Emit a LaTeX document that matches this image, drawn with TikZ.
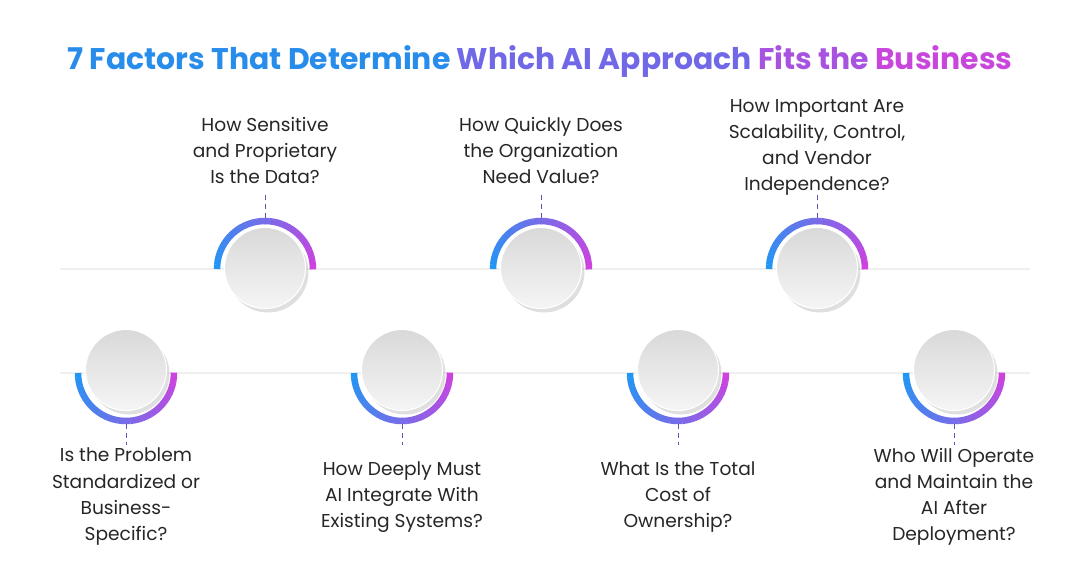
\documentclass[tikz,border=0pt]{standalone}
\usepackage{fontspec}
\setmainfont{Poppins}
\usetikzlibrary{shadows}
\definecolor{cA}{RGB}{33,150,243}
\definecolor{cB}{RGB}{206,66,222}
\definecolor{tA}{RGB}{40,140,235}
\definecolor{tB}{RGB}{120,100,230}
\definecolor{tC}{RGB}{200,70,220}
\begin{document}
\begin{tikzpicture}[x=0.02cm,y=-0.02cm,
  lab/.style={align=center,font=\fontsize{10.6}{14.8}\selectfont,text=black!85},
  disc/.style={circle,minimum size=1.62cm,inner sep=0pt,left color=gray!30,right color=gray!8,shading angle=0,draw=white,line width=0.6pt,drop shadow={shadow xshift=0.06cm,shadow yshift=-0.08cm,opacity=0.25}},
  guide/.style={gray!12,line width=1.2pt},
  vdash/.style={densely dashed,draw=tB!80!black,line width=0.5pt}]
\useasboundingbox (0,0) rectangle (1080,586);
\node[font=\fontsize{17}{20}\selectfont\bfseries] (title) at (540,62) {\textcolor{tA}{7 Factors That Determine}\ \textcolor{tB!90!tA}{Which AI Approach}\ \textcolor{tB!40!tC}{Fits the}\ \textcolor{tC}{Business}};
\draw[guide] (60,269) -- (1030,269);
\draw[guide] (60,373) -- (1030,373);
% top
\foreach \i/\x in {1/265,2/541,3/817}{
  \foreach \a in {0,...,35}{
    \pgfmathsetmacro{\p}{\a/35*100}
    \draw[color=cB!\p!cA,line width=0.13cm] (\x,269) ++(180+\a*5:48) arc (180+\a*5:185+\a*5+0.5:48);
  }
  \node[disc] (d\i) at (\x,268) {};
  \coordinate (t\i) at (\x,195);
  \draw[vdash] (t\i) -- (\x,218);
}
% bottom
\foreach \i/\x in {4/126,5/402,6/678,7/954}{
  \foreach \a in {0,...,35}{
    \pgfmathsetmacro{\p}{\a/35*100}
    \draw[color=cB!\p!cA,line width=0.13cm] (\x,373) ++(180-\a*5:48) arc (180-\a*5:175-\a*5-0.5:48);
  }
  \node[disc] (d\i) at (\x,370) {};
  \coordinate (b\i) at (\x,445);
  \draw[vdash] (\x,424) -- (b\i);
}
\node[lab,anchor=south] at (265,190) {How Sensitive\\and Proprietary\\Is the Data?};
\node[lab,anchor=south] at (541,190) {How Quickly Does\\the Organization\\Need Value?};
\node[lab,anchor=south] at (817,202) {How Important Are\\Scalability, Control,\\and Vendor\\Independence?};
\node[lab,anchor=north] at (126,442) {Is the Problem\\Standardized or\\Business-\\Specific?};
\node[lab,anchor=north] at (402,455) {How Deeply Must\\AI Integrate With\\Existing Systems?};
\node[lab,anchor=north] at (678,455) {What Is the Total\\Cost of\\Ownership?};
\node[lab,anchor=north] at (954,442) {Who Will Operate\\and Maintain the\\AI After\\Deployment?};
\end{tikzpicture}
\end{document}
